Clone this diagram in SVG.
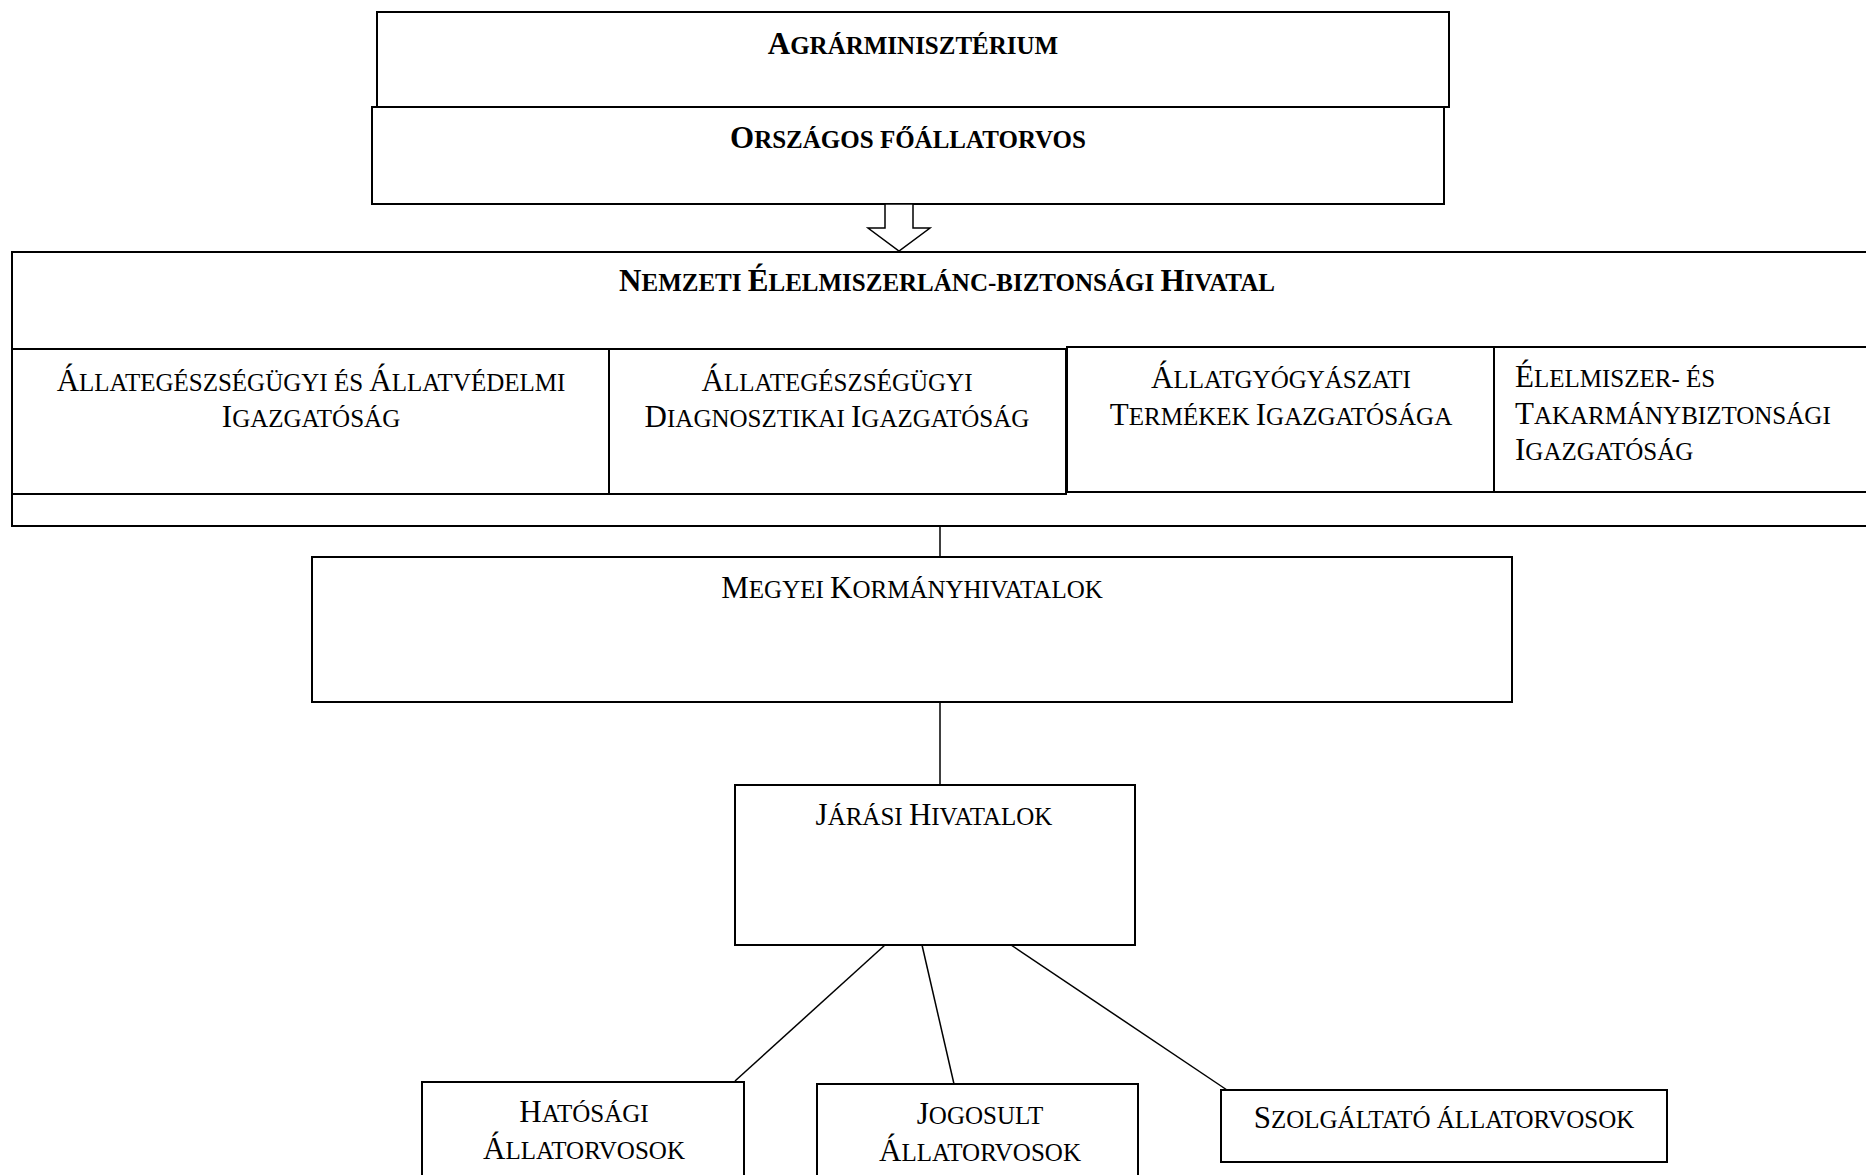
<svg xmlns="http://www.w3.org/2000/svg" width="1866" height="1175" viewBox="0 0 1866 1175">
<style>
  .box { fill: #fff; stroke: #000; stroke-width: 2; }
  .conn { stroke: #000; stroke-width: 1.5; fill: none; }
  text { font-family: "Liberation Serif", "Times New Roman", serif; font-size: 25px; fill: #000; }
  .b { font-weight: bold; }
  .m { text-anchor: middle; }
  .c { font-size: 31px; }
</style>
<rect width="1866" height="1175" fill="#fff"/>

<g id="agrarminiszterium">
  <rect class="box" x="377" y="12" width="1072" height="95"/>
  <text class="b m" x="913" y="54"><tspan class="c">A</tspan>GRÁRMINISZTÉRIUM</text>
</g>

<g id="orszagos-foallatorvos">
  <rect class="box" x="372" y="107" width="1072" height="97"/>
  <text class="b m" x="908" y="148"><tspan class="c">O</tspan>RSZÁGOS FŐÁLLATORVOS</text>
</g>

<g id="nebih">
  <rect class="box" x="12" y="252" width="1880" height="274" stroke-width="2.5"/>
  <text class="b m" x="947" y="291"><tspan class="c">N</tspan>EMZETI <tspan class="c">É</tspan>LELMISZERLÁNC-BIZTONSÁGI <tspan class="c">H</tspan>IVATAL</text>
</g>

<g id="igazgatosag-1">
  <rect class="box" x="12" y="349" width="597" height="145"/>
  <text class="m" x="311" y="391"><tspan class="c">Á</tspan>LLATEGÉSZSÉGÜGYI ÉS <tspan class="c">Á</tspan>LLATVÉDELMI</text>
  <text class="m" x="311" y="427"><tspan class="c">I</tspan>GAZGATÓSÁG</text>
</g>

<g id="igazgatosag-2">
  <rect class="box" x="609" y="349" width="457" height="145"/>
  <text class="m" x="837" y="391"><tspan class="c">Á</tspan>LLATEGÉSZSÉGÜGYI</text>
  <text class="m" x="837" y="427"><tspan class="c">D</tspan>IAGNOSZTIKAI <tspan class="c">I</tspan>GAZGATÓSÁG</text>
</g>

<g id="igazgatosag-3">
  <rect class="box" x="1067" y="347" width="427" height="145"/>
  <text class="m" x="1281" y="388"><tspan class="c">Á</tspan>LLATGYÓGYÁSZATI</text>
  <text class="m" x="1281" y="425"><tspan class="c">T</tspan>ERMÉKEK <tspan class="c">I</tspan>GAZGATÓSÁGA</text>
</g>

<g id="igazgatosag-4">
  <rect class="box" x="1494" y="347" width="400" height="145"/>
  <text x="1515" y="387"><tspan class="c">É</tspan>LELMISZER- ÉS</text>
  <text x="1515" y="424"><tspan class="c">T</tspan>AKARMÁNYBIZTONSÁGI</text>
  <text x="1515" y="460"><tspan class="c">I</tspan>GAZGATÓSÁG</text>
</g>

<g id="megyei-kormanyhivatalok">
  <rect class="box" x="312" y="557" width="1200" height="145"/>
  <text class="m" x="912" y="598"><tspan class="c">M</tspan>EGYEI <tspan class="c">K</tspan>ORMÁNYHIVATALOK</text>
</g>

<g id="jarasi-hivatalok">
  <rect class="box" x="735" y="785" width="400" height="160"/>
  <text class="m" x="934" y="825"><tspan class="c">J</tspan>ÁRÁSI <tspan class="c">H</tspan>IVATALOK</text>
</g>

<g id="hatosagi-allatorvosok">
  <rect class="box" x="422" y="1082" width="322" height="120"/>
  <text class="m" x="584" y="1122"><tspan class="c">H</tspan>ATÓSÁGI</text>
  <text class="m" x="584" y="1159"><tspan class="c">Á</tspan>LLATORVOSOK</text>
</g>

<g id="jogosult-allatorvosok">
  <rect class="box" x="817" y="1084" width="321" height="120"/>
  <text class="m" x="980" y="1124"><tspan class="c">J</tspan>OGOSULT</text>
  <text class="m" x="980" y="1161"><tspan class="c">Á</tspan>LLATORVOSOK</text>
</g>

<g id="szolgaltato-allatorvosok">
  <rect class="box" x="1221" y="1090" width="446" height="72"/>
  <text class="m" x="1444" y="1128"><tspan class="c">S</tspan>ZOLGÁLTATÓ ÁLLATORVOSOK</text>
</g>

<g id="connectors">
  <polygon class="conn" fill="#fff" points="885,204 913,204 913,228 930,228 899,251 868,228 885,228" style="fill:#fff"/>
  <line class="conn" x1="940" y1="526" x2="940" y2="557"/>
  <line class="conn" x1="940" y1="702" x2="940" y2="785"/>
  <line class="conn" x1="885" y1="945" x2="735" y2="1081"/>
  <line class="conn" x1="922" y1="945" x2="954" y2="1084"/>
  <line class="conn" x1="1011" y1="945" x2="1227" y2="1090"/>
</g>
</svg>
